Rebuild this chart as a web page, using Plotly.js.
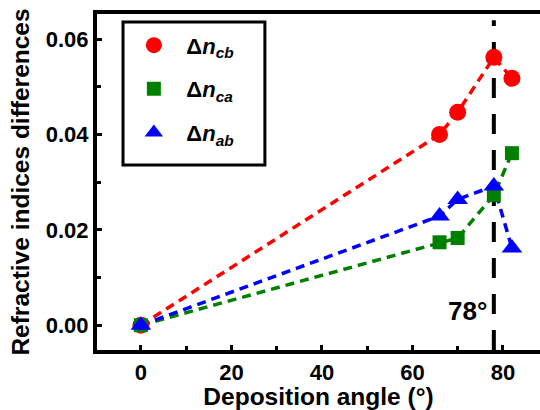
<!DOCTYPE html>
<html><head><meta charset="utf-8">
<script src="https://cdn.plot.ly/plotly-3.0.1.min.js"></script>
<style>html,body{margin:0;padding:0;overflow:hidden;background:#fff}</style>
</head><body>
<div id="chart" style="width:540px;height:410px"></div>
<script>
const angles = [0, 66, 70, 78, 82];
const dn_cb = [0, 0.0400, 0.0447, 0.0562, 0.0518];
const dn_ca = [0, 0.0174, 0.0183, 0.0273, 0.0361];
const dn_ab = [0, 0.0229, 0.0264, 0.0292, 0.0162];
const seriesNames = ['<b>Δ<i>n</i></b><sub><b><i>cb</i></b></sub>', '<b>Δ<i>n</i></b><sub><b><i>ca</i></b></sub>', '<b>Δ<i>n</i></b><sub><b><i>ab</i></b></sub>'];
const markerLine = 78;

const font = 'Liberation Sans, Arial, sans-serif';
const colors = ['#ff0000', '#008000', '#0000ff'];
const symbols = ['circle', 'square', 'triangle-up'];
const sizes = [17, 14, 18];
const ys = [dn_cb, dn_ca, dn_ab];
const data = [];
for (let i = 0; i < 3; i++) {
  data.push({x: angles, y: ys[i], mode: 'lines', type: 'scatter', showlegend: false,
    line: {color: colors[i], width: 3.5, dash: '9px,6px'}});
}
for (let i = 0; i < 3; i++) {
  data.push({x: angles, y: ys[i], name: seriesNames[i], legendgroup: 'g' + i, mode: 'markers', type: 'scatter',
    marker: {color: colors[i], symbol: symbols[i], size: sizes[i]}});
}
const layout = {
  width: 540, height: 410,
  margin: {l: 97, r: 0, t: 14, b: 60},
  paper_bgcolor: '#fff', plot_bgcolor: '#fff',
  font: {family: font, color: '#000'},
  showlegend: true,
  legend: {x: 0.055, y: 0.969, xanchor: 'left', yanchor: 'top',
    borderwidth: 0, bgcolor: 'rgba(0,0,0,0)',
    font: {size: 22, family: font, color: '#000'}, tracegroupgap: 12, itemwidth: 55},
  xaxis: {range: [-9.7, 88.2], showgrid: false, zeroline: false,
    showline: true, linewidth: 4, linecolor: '#000', mirror: true,
    ticks: 'inside', ticklen: 5, tickwidth: 3, tickcolor: '#000',
    tickvals: [0, 20, 40, 60, 80],
    minor: {tickvals: [10, 30, 50, 70], ticks: 'inside', ticklen: 4, tickwidth: 3, tickcolor: '#000'},
    tickfont: {size: 22, family: font, weight: 'bold', color: '#000'},
    title: {text: '<b>Deposition angle (°)</b>', font: {size: 24.5, family: font, color: '#000'}, standoff: 0}},
  yaxis: {range: [-0.0052, 0.0653], showgrid: false, zeroline: false,
    showline: true, linewidth: 4, linecolor: '#000', mirror: false,
    ticks: 'inside', ticklen: 5, tickwidth: 3, tickcolor: '#000',
    tickvals: [0, 0.02, 0.04, 0.06], ticktext: ['0.00', '0.02', '0.04', '0.06'],
    minor: {tickvals: [0.01, 0.03, 0.05], ticks: 'inside', ticklen: 4, tickwidth: 3, tickcolor: '#000'},
    tickfont: {size: 22, family: font, weight: 'bold', color: '#000'},
    title: {text: '<b>Refractive indices differences</b>', font: {size: 24.5, family: font, color: '#000'}, standoff: 10}},
  shapes: [
    {type: 'line', xref: 'x', yref: 'y', x0: markerLine, x1: markerLine, y0: -0.0052, y1: 0.064,
      line: {color: '#000', width: 4, dash: '20px,16px'}, layer: 'below'},
    {type: 'rect', xref: 'paper', yref: 'paper', x0: 0.0587, x1: 0.379, y0: 0.5506, y1: 0.976,
      line: {color: '#000', width: 3}, fillcolor: '#fff', layer: 'above'}
  ],
  annotations: [{xref: 'x', yref: 'y', x: markerLine - 1.0, y: 0.0030, xanchor: 'right', yanchor: 'middle',
    text: '<b>78°</b>', showarrow: false, font: {size: 26, family: font, color: '#000'}}]
};
Plotly.newPlot('chart', data, layout, {displayModeBar: false, staticPlot: true});
</script>
</body></html>
